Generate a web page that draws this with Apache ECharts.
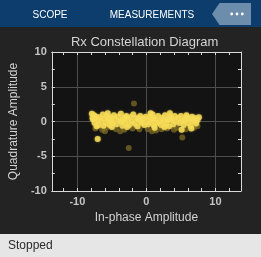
<!DOCTYPE html>
<html><head><meta charset="utf-8">
<script src="https://cdn.jsdelivr.net/npm/echarts@6/dist/echarts.min.js"></script>
<style>html,body{margin:0;padding:0;background:#232323;overflow:hidden}#c{width:261px;height:257px}</style>
</head><body><div id="c"></div>
<script>
// axis ticks / labels
const xTickValues = [-12,-10,-8,-6,-4,-2,0,2,4,6,8,10,12];
const xLabelValues = [-10,0,10];
const yLabelValues = [-10,-5,0,5,10];

// recent (bright) constellation samples: in-phase and quadrature
const recentI = [-7.9,-7.6,-7.8,-7.3,-7.1,-7.5,-6.9,-7.2,-6.8,-6.6,-7.05,
  -6.3,-6.1,-5.9,-6.2,-5.7,-5.5,-5.3,-5.6,-5.1,-4.9,-4.7,-5.0,-4.6,
  -4.3,-4.1,-3.9,-3.7,-3.5,-3.3,-3.1,-2.9,-2.7,-2.5,-2.3,-3.6,-2.8,
  -2.1,-1.9,-1.7,-1.5,-1.3,-1.1,-0.9,-0.7,-0.5,-0.3,-0.1,
  0.1,0.3,0.5,0.7,0.9,1.1,1.3,1.5,1.7,1.9,0.6,1.2,
  2.1,2.3,2.5,2.7,2.9,3.1,3.3,3.5,3.7,3.9,4.1,4.3,2.6,3.4,
  4.6,4.8,5.0,5.2,5.4,5.6,5.8,6.0,6.2,6.4,6.6,6.8,7.0,7.2,7.4,7.6,6.5,5.1,
  -7.7,-7.4,-5.4,-5.2,-3.4,-3.0,-1.2,-0.8,0.8,1.0,3.2,3.6,5.5,5.9,6.7,7.1];
const recentQ = [1.1,0.9,0.5,0.7,0.2,-0.2,-0.5,-0.7,0.6,0.1,-2.5,
  1.0,0.4,-0.2,-0.6,0.8,0.2,-0.5,1.2,0.5,-0.2,0.9,-0.8,0.3,
  -0.4,0.7,0.1,1.1,-0.6,0.4,-0.2,0.8,0.2,-0.5,0.6,0.0,-0.8,
  0.0,1.0,-0.3,0.5,-0.7,0.2,0.8,-0.2,0.4,-0.5,0.7,
  0.1,-0.4,0.6,-0.1,1.0,-0.6,0.3,-0.2,0.8,0.0,1.2,-0.9,
  -0.5,0.5,0.1,0.9,-0.3,0.4,-0.7,0.7,0.2,-0.4,0.8,0.0,-0.8,1.2,
  0.5,-0.2,0.8,0.1,-0.5,0.4,0.9,-0.2,0.3,-0.6,0.7,0.0,0.5,-0.3,0.2,0.6,-1.0,-1.2,
  0.3,0.5,0.6,0.0,0.3,0.6,0.4,0.1,0.3,0.5,0.2,0.4,0.1,0.6,0.3,0.1];

// older (faded) samples
const fadedI = [-7.4,-6.4,-5.8,-4.4,-3.2,-2.0,-1.0,0.2,1.4,2.2,3.0,4.0,4.4,5.7,6.9,7.4,-6.0,0.8,-3.8,-1.8,-2.56,5.2];
const fadedQ = [-1.0,-1.2,-0.9,-1.1,-1.2,-1.0,-1.1,-1.1,-1.3,-1.1,-1.0,-1.2,-0.9,-1.1,-0.9,-0.7,-1.4,-1.4,-1.4,2.6,-3.8,-2.3];

const zip = (a,b) => a.map((v,i)=>[v,b[i]]);

const BOX = '#d9d9d9', GRID = '#4e4e4e', LBL = '#c4c4c4', FONT = 'Liberation Sans, Arial, sans-serif';
const chart = echarts.init(document.getElementById('c'), null, {renderer:'canvas'});

const xCommon = {type:'value', min:-13.7, max:13.7, gridIndex:0};
const yCommon = {type:'value', min:-10, max:10, interval:5, gridIndex:0};

chart.setOption({
  backgroundColor:'#232323',
  animation:false,
  grid:{left:48, right:20, top:52, bottom:66, show:true, backgroundColor:'#131313', borderWidth:0},
  xAxis:[
    Object.assign({}, xCommon, {position:'bottom',
      axisLine:{show:true, onZero:false, lineStyle:{color:BOX, width:1}},
      axisTick:{show:true, inside:true, length:3, customValues:xTickValues, lineStyle:{color:BOX}},
      axisLabel:{show:true, customValues:xLabelValues, margin:5, color:LBL, fontSize:11, fontWeight:'bold', fontFamily:FONT},
      splitLine:{show:false},
      name:'In-phase Amplitude', nameLocation:'middle', nameGap:21,
      nameTextStyle:{color:'#d2d2d2', fontSize:12, fontFamily:FONT}}),
    Object.assign({}, xCommon, {position:'top',
      axisLine:{show:true, onZero:false, lineStyle:{color:BOX, width:1}},
      axisTick:{show:true, inside:true, length:3, customValues:xTickValues, lineStyle:{color:BOX}},
      axisLabel:{show:false}, splitLine:{show:false}}),
    Object.assign({}, xCommon, {position:'bottom',
      axisLine:{show:false}, axisTick:{show:false, customValues:xLabelValues},
      axisLabel:{show:false, customValues:xLabelValues},
      splitLine:{show:true, lineStyle:{color:GRID, width:1}}})
  ],
  yAxis:[
    Object.assign({}, yCommon, {position:'left',
      axisLine:{show:true, onZero:false, lineStyle:{color:BOX, width:1}},
      axisTick:{show:true, inside:true, length:3, lineStyle:{color:BOX}},
      minorTick:{show:true, splitNumber:2, length:3, lineStyle:{color:BOX}},
      axisLabel:{show:true, margin:5, color:LBL, fontSize:11, fontWeight:'bold', fontFamily:FONT,
        customValues:yLabelValues},
      splitLine:{show:true, lineStyle:{color:GRID, width:1}},
      name:'Quadrature Amplitude', nameLocation:'middle', nameGap:28,
      nameTextStyle:{color:'#d2d2d2', fontSize:12, fontFamily:FONT}}),
    Object.assign({}, yCommon, {position:'right',
      axisLine:{show:true, onZero:false, lineStyle:{color:BOX, width:1}},
      axisTick:{show:true, inside:true, length:3, lineStyle:{color:BOX}},
      minorTick:{show:true, splitNumber:2, length:3, lineStyle:{color:BOX}},
      axisLabel:{show:false}, splitLine:{show:false}})
  ],
  series:[
    {type:'scatter', xAxisIndex:0, yAxisIndex:0, data:zip(fadedI,fadedQ), symbolSize:6, silent:true,
      itemStyle:{color:'#7d6b26', opacity:0.75}},
    {type:'scatter', xAxisIndex:0, yAxisIndex:0, data:zip(recentI,recentQ), symbolSize:6, silent:true,
      itemStyle:{color:'#f7dc58', opacity:0.85, shadowBlur:2, shadowColor:'rgba(247,220,88,0.7)'}}
  ],
  graphic:[
    {type:'rect', left:0, top:0, shape:{width:261, height:27}, style:{fill:'#0c3d6c'}, silent:true},
    {type:'text', x:50, y:15, style:{text:'SCOPE', fill:'#ffffff', font:'10px '+FONT, textAlign:'center', textVerticalAlign:'middle'}},
    {type:'text', x:152, y:15, style:{text:'MEASUREMENTS', fill:'#ffffff', font:'10px '+FONT, textAlign:'center', textVerticalAlign:'middle'}},
    {type:'polygon', shape:{points:[[212,14],[219.5,3],[251,3],[251,25],[219.5,25]]}, style:{fill:'#6c8dac'}},
    {type:'circle', shape:{cx:231.7, cy:14, r:1.4}, style:{fill:'#ffffff'}},
    {type:'circle', shape:{cx:237, cy:14, r:1.4}, style:{fill:'#ffffff'}},
    {type:'circle', shape:{cx:242.3, cy:14, r:1.4}, style:{fill:'#ffffff'}},
    {type:'text', x:144.6, y:42, style:{text:'Rx Constellation Diagram', fill:'#d4d4d4', font:'13px '+FONT, textAlign:'center', textVerticalAlign:'middle'}},
    {type:'rect', left:0, top:234, shape:{width:261, height:23}, style:{fill:'#e6e6e6'}, silent:true},
    {type:'text', x:8, y:246, style:{text:'Stopped', fill:'#2a2a2a', font:'12px '+FONT, textAlign:'left', textVerticalAlign:'middle'}}
  ]
});
</script></body></html>
